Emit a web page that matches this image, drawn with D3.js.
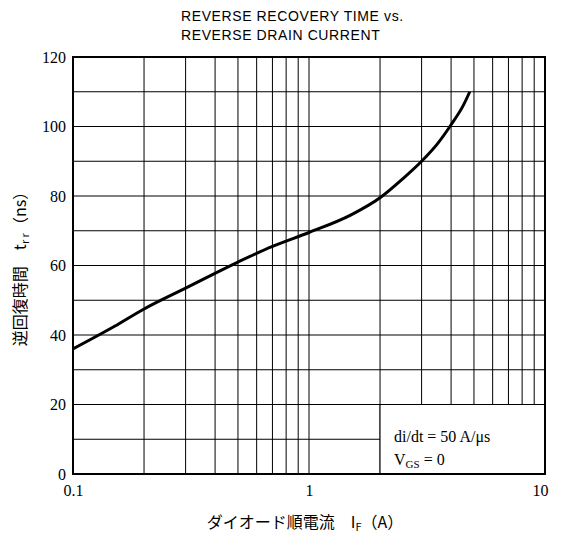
<!DOCTYPE html>
<html>
<head>
<meta charset="utf-8">
<script src="https://cdn.jsdelivr.net/npm/d3@7"></script>
<style>
  body { margin: 0; background: #fff; }
  svg { display: block; }
</style>
</head>
<body>
<svg class="chart" width="562" height="535"></svg>
<script>
const currents = [0.1, 0.15, 0.2, 0.3, 0.5, 0.7, 1, 1.5, 2, 2.5, 3, 3.5, 4, 4.5, 4.8]
const trr = [36, 42.5, 47.5, 53.5, 61, 65.5, 69.5, 74.5, 79.5, 85, 90, 95, 100.5, 106, 110]
const xTicks = [0.1, 1, 10]
const yTicks = [0, 20, 40, 60, 80, 100, 120]
const xGrid = [0.2, 0.3, 0.4, 0.5, 0.6, 0.7, 0.8, 0.9, 1, 2, 3, 4, 5, 6, 7, 8, 9]
const yGrid = [10, 20, 30, 40, 50, 60, 70, 80, 90, 100, 110]
const titleLines = ['REVERSE RECOVERY TIME vs.', 'REVERSE DRAIN CURRENT']

const x = d3.scaleLog([0.1, 10], [73, 545])
const y = d3.scaleLinear([0, 120], [474, 57])

const svg = d3.select('.chart')
const serif = '"Liberation Serif", "DejaVu Serif", serif'

// title
svg.append('g')
    .selectAll('text')
    .data(titleLines)
    .join('text')
        .attr('x', 181)
        .attr('y', (d, i) => 21 + i * 19)
        .attr('font-family', '"Liberation Sans", Arial, sans-serif')
        .attr('font-size', '14px')
        .attr('letter-spacing', '0.6px')
        .attr('fill', '#000')
        .text(d => d)

// grid
const grid = svg.append('g').attr('stroke', '#000').attr('stroke-width', 1)
grid.selectAll('.vx')
    .data(xGrid)
    .join('line')
        .attr('x1', d => x(d)).attr('x2', d => x(d))
        .attr('y1', y(0)).attr('y2', y(120))
grid.selectAll('.hy')
    .data(yGrid)
    .join('line')
        .attr('x1', x(0.1)).attr('x2', x(10))
        .attr('y1', d => y(d)).attr('y2', d => y(d))

// legend box covering the grid
svg.append('rect')
    .attr('x', x(2)).attr('y', y(20))
    .attr('width', x(10) - x(2)).attr('height', y(0) - y(20))
    .attr('fill', '#fff').attr('stroke', '#000').attr('stroke-width', 1)

svg.append('text')
    .attr('font-family', serif).attr('font-size', '16px').attr('fill', '#000')
    .attr('x', 394).attr('y', 442)
    .text('di/dt = 50 A/\u03bcs')
const vgs = svg.append('text')
    .attr('font-family', serif).attr('font-size', '16px').attr('fill', '#000')
    .attr('x', 394).attr('y', 465)
vgs.append('tspan').text('V')
vgs.append('tspan').attr('font-size', '11px').attr('dy', 3).text('GS')
vgs.append('tspan').attr('dy', -3).text(' = 0')

// curve
const line = d3.line()
    .x((d, i) => x(currents[i]))
    .y(d => y(d))
    .curve(d3.curveMonotoneX)
svg.append('path')
    .datum(trr)
    .attr('d', line)
    .attr('fill', 'none')
    .attr('stroke', '#000')
    .attr('stroke-width', 3)

// frame
svg.append('rect')
    .attr('x', x(0.1)).attr('y', y(120))
    .attr('width', x(10) - x(0.1)).attr('height', y(0) - y(120))
    .attr('fill', 'none').attr('stroke', '#000').attr('stroke-width', 2)

// axes
const xAxis = d3.axisBottom(x).tickValues(xTicks).tickSize(0).tickPadding(11)
    .tickFormat(d => d3.format('~g')(d))
svg.append('g')
    .attr('transform', `translate(0, ${y(0)})`)
    .call(xAxis)
    .call(g => g.select('.domain').remove())
    .call(g => g.selectAll('text')
        .attr('font-family', serif).attr('font-size', '16px').attr('fill', '#000')
        .attr('text-anchor', d => d === 10 ? 'end' : 'middle')
        .attr('dx', d => d === 10 ? 3 : 0))

const yAxis = d3.axisLeft(y).tickValues(yTicks).tickSize(0).tickPadding(7)
svg.append('g')
    .attr('transform', `translate(${x(0.1)}, 0)`)
    .call(yAxis)
    .call(g => g.select('.domain').remove())
    .call(g => g.selectAll('text')
        .attr('font-family', serif).attr('font-size', '16px').attr('fill', '#000'))

// axis labels
const xl = svg.append('text')
    .attr('x', 305).attr('y', 528)
    .attr('text-anchor', 'middle')
    .attr('font-family', '"Noto Sans CJK JP", serif')
    .attr('font-size', '16px').attr('fill', '#000')
xl.append('tspan').text('ダイオード順電流\u3000I')
xl.append('tspan').attr('font-size', '11px').attr('dy', 3).text('F')
xl.append('tspan').attr('dy', -3).text('（A）')

const yl = svg.append('text')
    .attr('transform', 'translate(26, 265) rotate(-90)')
    .attr('text-anchor', 'middle')
    .attr('font-family', '"Noto Sans CJK JP", serif')
    .attr('font-size', '16px').attr('fill', '#000')
yl.append('tspan').text('逆回復時間\u3000t')
yl.append('tspan').attr('font-size', '11px').attr('dy', 3).text('r r')
yl.append('tspan').attr('dy', -3).text('（ns）')
</script>
</body>
</html>
